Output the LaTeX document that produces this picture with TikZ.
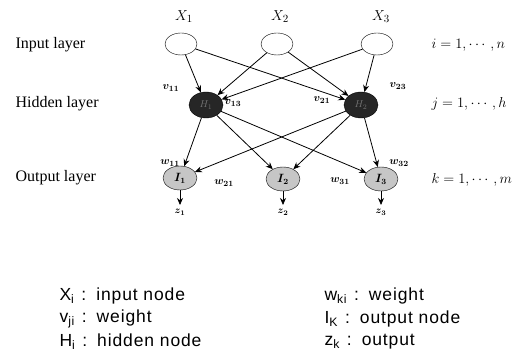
\documentclass[tikz,border=0pt]{standalone}
\usepackage{amsmath,amssymb}
\usepackage{fontspec}
\setmainfont{Liberation Serif}
\newfontfamily\legendfont[LetterSpace=5]{Liberation Sans}
\usepackage{tikz}
\usetikzlibrary{arrows.meta, shapes.geometric}
\usepackage{xcolor}

\newcommand{\legsep}{\hspace{7pt}:\hspace{10pt}}
\tikzset{
  innode/.style={ellipse, draw, minimum width=32pt, minimum height=22pt, inner sep=0pt},
  hidnode/.style={ellipse, draw, fill=black!85, text=black!55, minimum width=34pt, minimum height=26pt, inner sep=0pt},
  outnode/.style={ellipse, draw, fill=gray!45, font=\large\boldmath, minimum width=34pt, minimum height=24pt, inner sep=0pt},
  link/.style={->, thick},
  wlab/.style={font=\fontsize{11}{12}\selectfont\boldmath},
  layerlab/.style={anchor=west, font=\fontsize{16}{18}\selectfont},
  rangelab/.style={anchor=west, font=\fontsize{14}{16}\selectfont},
  legendlab/.style={anchor=west, font=\legendfont\fontsize{17.5}{19}\selectfont}
}

\begin{document}
\begin{tikzpicture}[x=1pt, y=-1pt, >={Stealth[length=7pt,width=6pt]}]
\useasboundingbox (0,0) rectangle (531,355);
% layer names on the left
\node[layerlab] (inlab) at (12,45){Input layer};
\node[layerlab] (hidlab) at (12,104){Hidden layer};
\node[layerlab] (outlab) at (12,178){Output layer};
% index ranges on the right
\node[rangelab] (irange) at (428,45){$i = 1,\cdots,n$};
\node[rangelab] (jrange) at (428,104){$j = 1,\cdots,h$};
\node[rangelab] (krange) at (428,180){$k = 1,\cdots,m$};
% input nodes
\node[innode] (x1) at (181,44){};
\node[innode] (x2) at (277,44){};
\node[innode] (x3) at (377,44){};
\node[font=\fontsize{15}{16}\selectfont] at (184,17){$X_1$};
\node[font=\fontsize{15}{16}\selectfont] at (280,17){$X_2$};
\node[font=\fontsize{15}{16}\selectfont] at (381,17){$X_3$};
% hidden nodes
\node[hidnode] (h1) at (206,105){$H_1$};
\node[hidnode] (h2) at (361,105){$H_2$};
% output nodes
\node[outnode] (o1) at (180,178){$I_1$};
\node[outnode] (o2) at (283,179){$I_2$};
\node[outnode] (o3) at (381,179){$I_3$};
% input to hidden
\foreach \i in {1,2,3}{
  \draw[link] (x\i) -- (h1);
  \draw[link] (x\i) -- (h2);
}
% hidden to output
\foreach \k in {1,2,3}{
  \draw[link] (h1) -- (o\k);
  \draw[link] (h2) -- (o\k);
}
% outputs
\coordinate (z1) at (180,205);
\coordinate (z2) at (283,205);
\coordinate (z3) at (381,205);
\foreach \k in {1,2,3}{
  \draw[link] (o\k) -- (z\k);
  \node[below=1pt, font=\boldmath] at (z\k){$z_\k$};
}
% weight labels
\node[wlab] at (171,88){$v_{11}$};
\node[wlab] at (233,103){$v_{13}$};
\node[wlab] at (322,100){$v_{21}$};
\node[wlab] at (398,86){$v_{23}$};
\node[wlab] at (170,163){$w_{11}$};
\node[wlab] at (224,183){$w_{21}$};
\node[wlab] at (340,181){$w_{31}$};
\node[wlab] at (399,163){$w_{32}$};
% legend
\node[legendlab] (lx) at (56,296){X\textsubscript{i}\legsep input node};
\node[legendlab] (lv) at (56,319){v\textsubscript{ji}\legsep weight};
\node[legendlab] (lh) at (56,342){H\textsubscript{i}\legsep hidden node};
\node[legendlab] (lw) at (321,296){w\textsubscript{ki}\legsep weight};
\node[legendlab] (li) at (321,319){I\textsubscript{K}\legsep output node};
\node[legendlab] (lz) at (321,342){z\textsubscript{k}\legsep output};
\end{tikzpicture}
\end{document}
